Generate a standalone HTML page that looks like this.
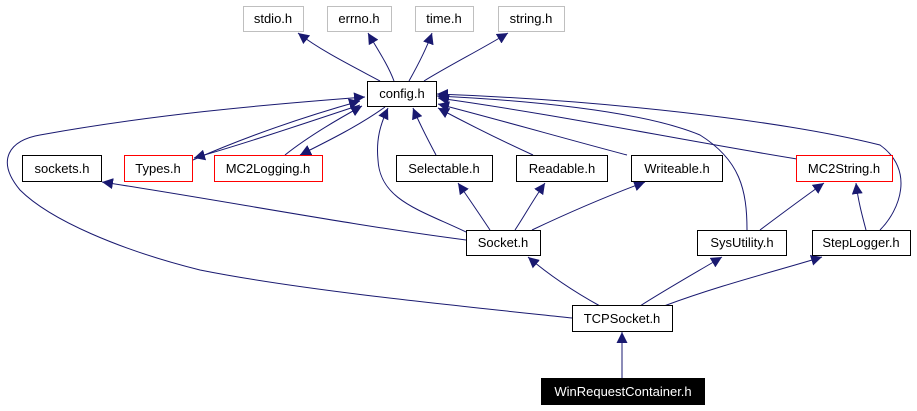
<!DOCTYPE html>
<html><head><meta charset="utf-8"><style>
html,body{margin:0;padding:0;background:#fff;}
svg{display:block;}
text{font-family:"Liberation Sans",sans-serif;font-size:13px;}
</style></head><body>
<svg width="917" height="411" viewBox="0 0 917 411" xmlns="http://www.w3.org/2000/svg">
<defs>
<marker id="a" viewBox="0 0 10 10" refX="10" refY="5" markerWidth="11" markerHeight="11" markerUnits="userSpaceOnUse" orient="auto">
<path d="M0,0 L10,5 L0,10 z" fill="#191970"/>
</marker>
</defs>
<g fill="none" stroke="#191970" stroke-width="1" marker-end="url(#a)">
<!-- config to std headers -->
<path d="M380,81 C350,65 320,50 298,33"/>
<path d="M394,81 C388,65 378,50 368,33"/>
<path d="M409,81 C418,65 426,50 432,33"/>
<path d="M424,81 C450,65 480,50 508,33"/>
<!-- Types <-> config -->
<path d="M193,160 C250,135 310,115 360,101"/>
<path d="M360,105 C300,125 240,145 194,158"/>
<!-- MC2Logging <-> config -->
<path d="M285,155 C310,135 340,118 362,106"/>
<path d="M385,107 C360,125 330,140 300,155"/>
<!-- Selectable, Readable, Writeable, MC2String to config -->
<path d="M436,155 C428,140 420,125 413,108"/>
<path d="M533,155 C500,140 470,125 438,108"/>
<path d="M627,155 C570,140 500,120 438,104"/>
<path d="M797,159 C680,140 560,115 438,98"/>
<!-- SysUtility to config -->
<path d="M747,230 C747,190 740,160 700,135 C640,110 520,100 437,96"/>
<!-- StepLogger to config -->
<path d="M880,230 C900,210 915,170 880,145 C780,120 600,100 437,94"/>
<!-- Socket to config -->
<path d="M466,232 C420,210 380,200 378,160 C376,140 380,125 388,108"/>
<!-- TCPSocket to config -->
<path d="M572,318 C450,305 300,290 200,270 C120,250 50,220 20,190 C-5,160 10,140 40,135 C150,115 260,105 365,97"/>
<!-- Socket to sockets -->
<path d="M466,240 C350,225 220,200 102,182"/>
<!-- Socket to Selectable/Readable/Writeable -->
<path d="M490,230 C480,215 470,200 458,183"/>
<path d="M515,230 C525,215 533,200 545,183"/>
<path d="M532,230 C570,212 610,195 645,182"/>
<!-- SysUtility, StepLogger to MC2String -->
<path d="M760,230 C780,215 800,200 824,183"/>
<path d="M866,230 C862,215 858,200 856,183"/>
<!-- TCPSocket to Socket, SysUtility, StepLogger -->
<path d="M600,306 C580,295 555,280 528,257"/>
<path d="M640,306 C665,290 695,273 722,257"/>
<path d="M664,306 C720,285 780,270 822,257"/>
<!-- WinRequest to TCPSocket -->
<path d="M622,378 L622,332"/>
</g>
<g stroke-width="1">
<rect x="243.5" y="6.5" width="60" height="25" fill="#fff" stroke="#bfbfbf"/>
<rect x="327.5" y="6.5" width="64" height="25" fill="#fff" stroke="#bfbfbf"/>
<rect x="415.5" y="6.5" width="58" height="25" fill="#fff" stroke="#bfbfbf"/>
<rect x="498.5" y="6.5" width="66" height="25" fill="#fff" stroke="#bfbfbf"/>
<rect x="367.5" y="81.5" width="69" height="25" fill="#fff" stroke="#000"/>
<rect x="22.5" y="155.5" width="79" height="26" fill="#fff" stroke="#000"/>
<rect x="124.5" y="155.5" width="68" height="26" fill="#fff" stroke="#f00"/>
<rect x="214.5" y="155.5" width="108" height="26" fill="#fff" stroke="#f00"/>
<rect x="396.5" y="155.5" width="96" height="26" fill="#fff" stroke="#000"/>
<rect x="516.5" y="155.5" width="91" height="26" fill="#fff" stroke="#000"/>
<rect x="631.5" y="155.5" width="91" height="26" fill="#fff" stroke="#000"/>
<rect x="796.5" y="155.5" width="96" height="26" fill="#fff" stroke="#f00"/>
<rect x="466.5" y="230.5" width="74" height="25" fill="#fff" stroke="#000"/>
<rect x="697.5" y="230.5" width="89" height="25" fill="#fff" stroke="#000"/>
<rect x="812.5" y="230.5" width="98" height="25" fill="#fff" stroke="#000"/>
<rect x="572.5" y="305.5" width="100" height="26" fill="#fff" stroke="#000"/>
<rect x="541.5" y="378.5" width="163" height="26" fill="#000" stroke="#000"/>
</g>
<g text-anchor="middle" fill="#000">
<text x="273" y="23">stdio.h</text>
<text x="359" y="23">errno.h</text>
<text x="444" y="23">time.h</text>
<text x="531" y="23">string.h</text>
<text x="402" y="98">config.h</text>
<text x="62" y="173">sockets.h</text>
<text x="158" y="173">Types.h</text>
<text x="268" y="173">MC2Logging.h</text>
<text x="444" y="173">Selectable.h</text>
<text x="562" y="173">Readable.h</text>
<text x="677" y="173">Writeable.h</text>
<text x="844" y="173">MC2String.h</text>
<text x="503" y="247">Socket.h</text>
<text x="742" y="247">SysUtility.h</text>
<text x="861" y="247">StepLogger.h</text>
<text x="622" y="323">TCPSocket.h</text>
<text x="623" y="396" fill="#fff">WinRequestContainer.h</text>
</g>
</svg>
</body></html>
